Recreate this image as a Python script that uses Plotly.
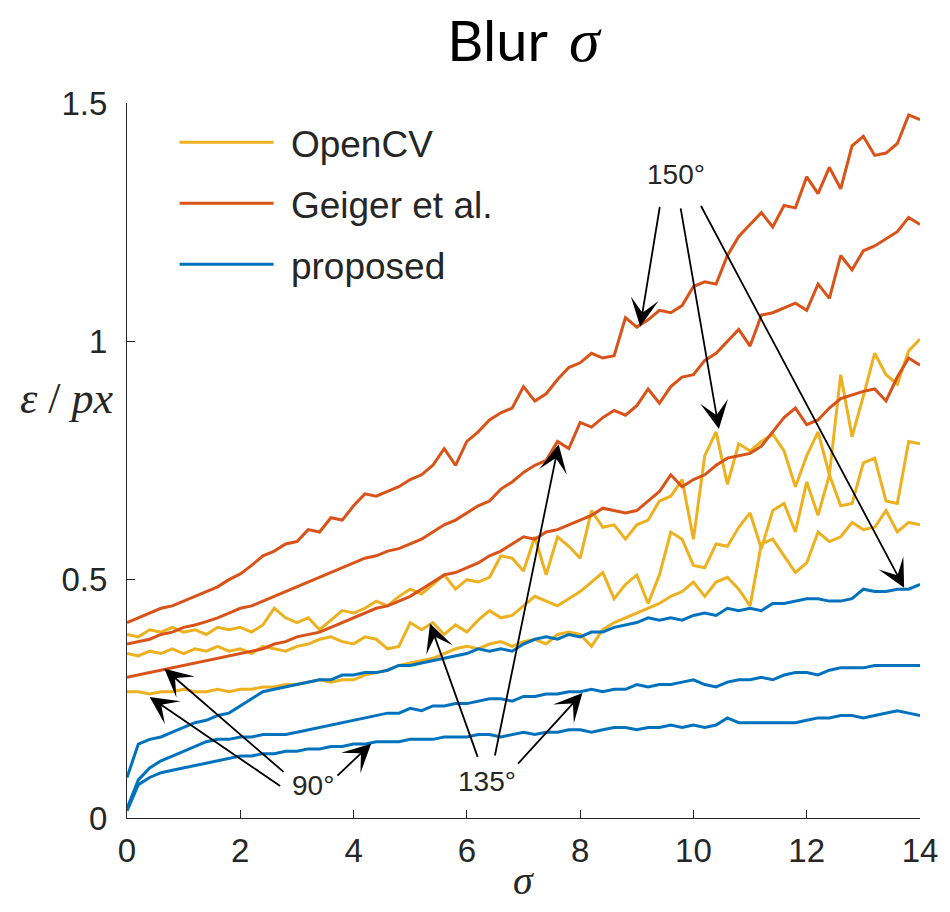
import plotly.graph_objects as go

# Blur level sigma, sampled every 0.2 from 0 to 14
SIGMA = [round(0.2 * i, 1) for i in range(71)]

# Mean corner localisation error (px) for each detector and corner angle
GEIGER_150 = [
    0.410, 0.420, 0.430, 0.440, 0.445, 0.455, 0.465, 0.475, 0.485, 0.500,
    0.512, 0.530, 0.550, 0.560, 0.575, 0.580, 0.605, 0.600, 0.630, 0.625,
    0.655, 0.680, 0.675, 0.685, 0.695, 0.710, 0.720, 0.740, 0.775, 0.740,
    0.790, 0.810, 0.835, 0.850, 0.860, 0.905, 0.875, 0.890, 0.920, 0.945,
    0.955, 0.975, 0.965, 0.970, 1.050, 1.030, 1.045, 1.065, 1.060, 1.075,
    1.115, 1.125, 1.120, 1.180, 1.220, 1.245, 1.270, 1.240, 1.285, 1.280,
    1.345, 1.310, 1.365, 1.320, 1.410, 1.430, 1.390, 1.395, 1.415, 1.475,
    1.465,
]
GEIGER_135 = [
    0.365, 0.370, 0.375, 0.385, 0.390, 0.400, 0.405, 0.412, 0.420, 0.430,
    0.440, 0.445, 0.455, 0.465, 0.475, 0.485, 0.495, 0.505, 0.515, 0.525,
    0.535, 0.545, 0.550, 0.560, 0.565, 0.575, 0.585, 0.600, 0.615, 0.625,
    0.640, 0.655, 0.665, 0.690, 0.705, 0.725, 0.740, 0.750, 0.790, 0.775,
    0.830, 0.820, 0.840, 0.855, 0.845, 0.865, 0.900, 0.870, 0.905, 0.925,
    0.930, 0.960, 0.975, 1.000, 1.025, 0.990, 1.055, 1.060, 1.070, 1.080,
    1.065, 1.120, 1.090, 1.180, 1.150, 1.190, 1.200, 1.215, 1.230, 1.260,
    1.245,
]
GEIGER_90 = [
    0.295, 0.300, 0.305, 0.310, 0.315, 0.320, 0.325, 0.330, 0.335, 0.340,
    0.345, 0.350, 0.355, 0.365, 0.370, 0.380, 0.385, 0.390, 0.400, 0.410,
    0.420, 0.430, 0.440, 0.445, 0.455, 0.465, 0.480, 0.495, 0.510, 0.515,
    0.525, 0.535, 0.550, 0.560, 0.575, 0.590, 0.585, 0.600, 0.605, 0.615,
    0.625, 0.635, 0.650, 0.645, 0.640, 0.645, 0.665, 0.685, 0.720, 0.695,
    0.710, 0.720, 0.740, 0.755, 0.760, 0.765, 0.780, 0.810, 0.840, 0.860,
    0.825, 0.835, 0.860, 0.880, 0.888, 0.895, 0.900, 0.875, 0.925, 0.965,
    0.950,
]
OPENCV_150 = [
    0.385, 0.380, 0.395, 0.390, 0.400, 0.390, 0.395, 0.385, 0.400, 0.395,
    0.400, 0.390, 0.405, 0.440, 0.420, 0.410, 0.420, 0.395, 0.415, 0.435,
    0.430, 0.440, 0.455, 0.445, 0.465, 0.480, 0.470, 0.490, 0.510, 0.480,
    0.500, 0.495, 0.505, 0.550, 0.545, 0.518, 0.590, 0.510, 0.590, 0.570,
    0.545, 0.645, 0.610, 0.615, 0.585, 0.615, 0.625, 0.665, 0.675, 0.710,
    0.585, 0.760, 0.810, 0.700, 0.785, 0.770, 0.790, 0.805, 0.770, 0.695,
    0.760, 0.810, 0.720, 0.930, 0.800, 0.885, 0.975, 0.930, 0.910, 0.980,
    1.005,
]
OPENCV_135 = [
    0.345, 0.340, 0.350, 0.345, 0.355, 0.345, 0.355, 0.350, 0.360, 0.350,
    0.355, 0.345, 0.360, 0.355, 0.350, 0.360, 0.365, 0.375, 0.380, 0.370,
    0.365, 0.380, 0.375, 0.355, 0.360, 0.410, 0.395, 0.410, 0.385, 0.405,
    0.390, 0.415, 0.435, 0.420, 0.425, 0.445, 0.465, 0.455, 0.445, 0.460,
    0.475, 0.495, 0.515, 0.460, 0.490, 0.510, 0.450, 0.510, 0.600, 0.585,
    0.530, 0.525, 0.575, 0.570, 0.610, 0.640, 0.565, 0.645, 0.660, 0.600,
    0.705, 0.635, 0.720, 0.655, 0.660, 0.745, 0.755, 0.665, 0.660, 0.790,
    0.785,
]
OPENCV_90 = [
    0.265, 0.265, 0.260, 0.265, 0.265, 0.270, 0.265, 0.265, 0.270, 0.265,
    0.270, 0.270, 0.275, 0.275, 0.280, 0.280, 0.285, 0.290, 0.285, 0.290,
    0.290, 0.300, 0.305, 0.310, 0.320, 0.325, 0.330, 0.335, 0.345, 0.355,
    0.360, 0.355, 0.365, 0.370, 0.360, 0.370, 0.375, 0.365, 0.385, 0.390,
    0.385, 0.360, 0.395, 0.410, 0.420, 0.430, 0.440, 0.450, 0.465, 0.475,
    0.495, 0.465, 0.495, 0.505, 0.480, 0.445, 0.575, 0.585, 0.550, 0.515,
    0.535, 0.600, 0.580, 0.590, 0.620, 0.605, 0.610, 0.645, 0.600, 0.620,
    0.615,
]
PROPOSED_150 = [
    0.085, 0.155, 0.165, 0.170, 0.180, 0.190, 0.200, 0.205, 0.215, 0.220,
    0.235, 0.250, 0.265, 0.270, 0.275, 0.280, 0.285, 0.290, 0.290, 0.300,
    0.300, 0.305, 0.305, 0.310, 0.320, 0.320, 0.325, 0.330, 0.335, 0.340,
    0.345, 0.355, 0.350, 0.355, 0.350, 0.365, 0.375, 0.380, 0.375, 0.385,
    0.380, 0.390, 0.390, 0.400, 0.405, 0.410, 0.420, 0.415, 0.420, 0.415,
    0.425, 0.430, 0.425, 0.440, 0.435, 0.440, 0.435, 0.450, 0.450, 0.455,
    0.460, 0.460, 0.455, 0.455, 0.460, 0.480, 0.475, 0.475, 0.480, 0.480,
    0.490,
]
PROPOSED_135 = [
    0.020, 0.080, 0.105, 0.120, 0.130, 0.140, 0.150, 0.160, 0.165, 0.165,
    0.170, 0.170, 0.175, 0.175, 0.175, 0.180, 0.185, 0.190, 0.195, 0.200,
    0.205, 0.210, 0.215, 0.220, 0.220, 0.230, 0.225, 0.235, 0.235, 0.240,
    0.240, 0.245, 0.250, 0.250, 0.245, 0.255, 0.255, 0.260, 0.260, 0.265,
    0.265, 0.270, 0.265, 0.270, 0.270, 0.280, 0.275, 0.280, 0.280, 0.285,
    0.290, 0.280, 0.275, 0.285, 0.290, 0.290, 0.295, 0.290, 0.300, 0.305,
    0.305, 0.300, 0.310, 0.315, 0.315, 0.315, 0.320, 0.320, 0.320, 0.320,
    0.320,
]
PROPOSED_90 = [
    0.015, 0.070, 0.085, 0.095, 0.100, 0.105, 0.110, 0.115, 0.120, 0.125,
    0.130, 0.130, 0.135, 0.135, 0.140, 0.140, 0.145, 0.145, 0.150, 0.150,
    0.155, 0.155, 0.160, 0.160, 0.160, 0.165, 0.165, 0.165, 0.170, 0.170,
    0.170, 0.175, 0.175, 0.170, 0.175, 0.180, 0.175, 0.180, 0.180, 0.185,
    0.185, 0.180, 0.185, 0.190, 0.190, 0.185, 0.190, 0.190, 0.195, 0.190,
    0.195, 0.190, 0.195, 0.210, 0.200, 0.200, 0.200, 0.200, 0.200, 0.200,
    0.205, 0.210, 0.210, 0.215, 0.215, 0.210, 0.215, 0.220, 0.225, 0.220,
    0.215,
]

METHODS = ["OpenCV", "Geiger et al.", "proposed"]
COLORS = {"OpenCV": "#EDB120", "Geiger et al.": "#D95319", "proposed": "#0072BD"}
SERIES = {
    "Geiger et al.": [GEIGER_150, GEIGER_135, GEIGER_90],
    "OpenCV": [OPENCV_150, OPENCV_135, OPENCV_90],
    "proposed": [PROPOSED_150, PROPOSED_135, PROPOSED_90],
}

AX_COLOR = "#262626"
SANS = "Liberation Sans"
SERIF = "Liberation Serif"
LEGEND_PAD = "\u2004"  # small gap between legend line and label

fig = go.Figure()
for method in METHODS:
    for k, values in enumerate(SERIES[method]):
        fig.add_trace(go.Scatter(
            x=SIGMA, y=values, mode="lines", name=LEGEND_PAD + method,
            legendgroup=method, showlegend=(k == 0),
            line=dict(color=COLORS[method], width=3),
            hovertemplate=method + "<br>σ=%{x}<br>ε=%{y}<extra></extra>",
        ))

# Angle labels with arrows pointing at the curves: (text, text pos, [(tail, tip), ...])
ANGLE_NOTES = [
    ("90°", (3.29, 0.069), [((2.73, 0.065), (0.40, 0.254)),
                           ((2.79, 0.094), (0.66, 0.313)),
                           ((3.69, 0.086), (4.31, 0.156))]),
    ("135°", (6.35, 0.077), [((6.20, 0.125), (5.35, 0.408)),
                            ((6.49, 0.128), (7.62, 0.784)),
                            ((6.88, 0.111), (8.04, 0.262))]),
    ("150°", (9.69, 1.351), [((9.41, 1.285), (9.06, 1.031)),
                            ((9.77, 1.282), (10.45, 0.816)),
                            ((10.12, 1.287), (13.72, 0.483))]),
]

annotations = []
for label, (tx, ty), arrows in ANGLE_NOTES:
    annotations.append(dict(
        x=tx, y=ty, xref="x", yref="y", text=label, showarrow=False,
        xanchor="center", yanchor="middle",
        font=dict(family=SANS, size=28, color=AX_COLOR),
    ))
    for (sx, sy), (ex, ey) in arrows:
        annotations.append(dict(
            x=ex, y=ey, ax=sx, ay=sy, xref="x", yref="y", axref="x", ayref="y",
            text="", showarrow=True, arrowhead=3, arrowsize=2.6, arrowwidth=1.8,
            arrowcolor="#000000", standoff=0,
        ))

# Axis labels
annotations.append(dict(
    x=-0.076, y=0.587, xref="paper", yref="paper", showarrow=False,
    xanchor="center", yanchor="middle",
    text="<i>ε</i> / <i>px</i>",
    font=dict(family=SERIF, size=44, color=AX_COLOR),
))
annotations.append(dict(
    x=0.5, y=-0.087, xref="paper", yref="paper", showarrow=False,
    xanchor="center", yanchor="middle",
    text="<i>σ</i>",
    font=dict(family=SERIF, size=40, color=AX_COLOR),
))

axis_common = dict(
    showline=True, linecolor=AX_COLOR, linewidth=1.3, mirror=False,
    ticks="inside", ticklen=8, tickwidth=1.3, tickcolor=AX_COLOR,
    showgrid=False, zeroline=False,
    tickfont=dict(family=SANS, size=33, color=AX_COLOR),
)

fig.update_layout(
    width=950, height=912,
    margin=dict(l=127, r=22, t=103, b=94),
    paper_bgcolor="white", plot_bgcolor="white",
    title=dict(
        text="Blur\u2009 <span style=\"font-family:'Liberation Serif';font-size:62px\"><i>σ</i></span>",
        x=0.5, xref="paper", xanchor="center",
        y=0.955, yref="container", yanchor="middle",
        font=dict(family="Lato", size=56, color="#000000"),
    ),
    xaxis=dict(range=[0, 14], tickvals=[0, 2, 4, 6, 8, 10, 12, 14],
               ticklabelstandoff=3, **axis_common),
    yaxis=dict(range=[0, 1.5], tickvals=[0, 0.5, 1, 1.5],
               ticktext=["0", "0.5", "1", "1.5"],
               ticklabelstandoff=12, **axis_common),
    legend=dict(
        x=0.06, y=0.988, xanchor="left", yanchor="top",
        bgcolor="rgba(0,0,0,0)", borderwidth=0,
        font=dict(family=SANS, size=37, color=AX_COLOR),
        itemwidth=94, tracegroupgap=10,
    ),
    annotations=annotations,
    showlegend=True,
)

fig.write_html("out.html")
